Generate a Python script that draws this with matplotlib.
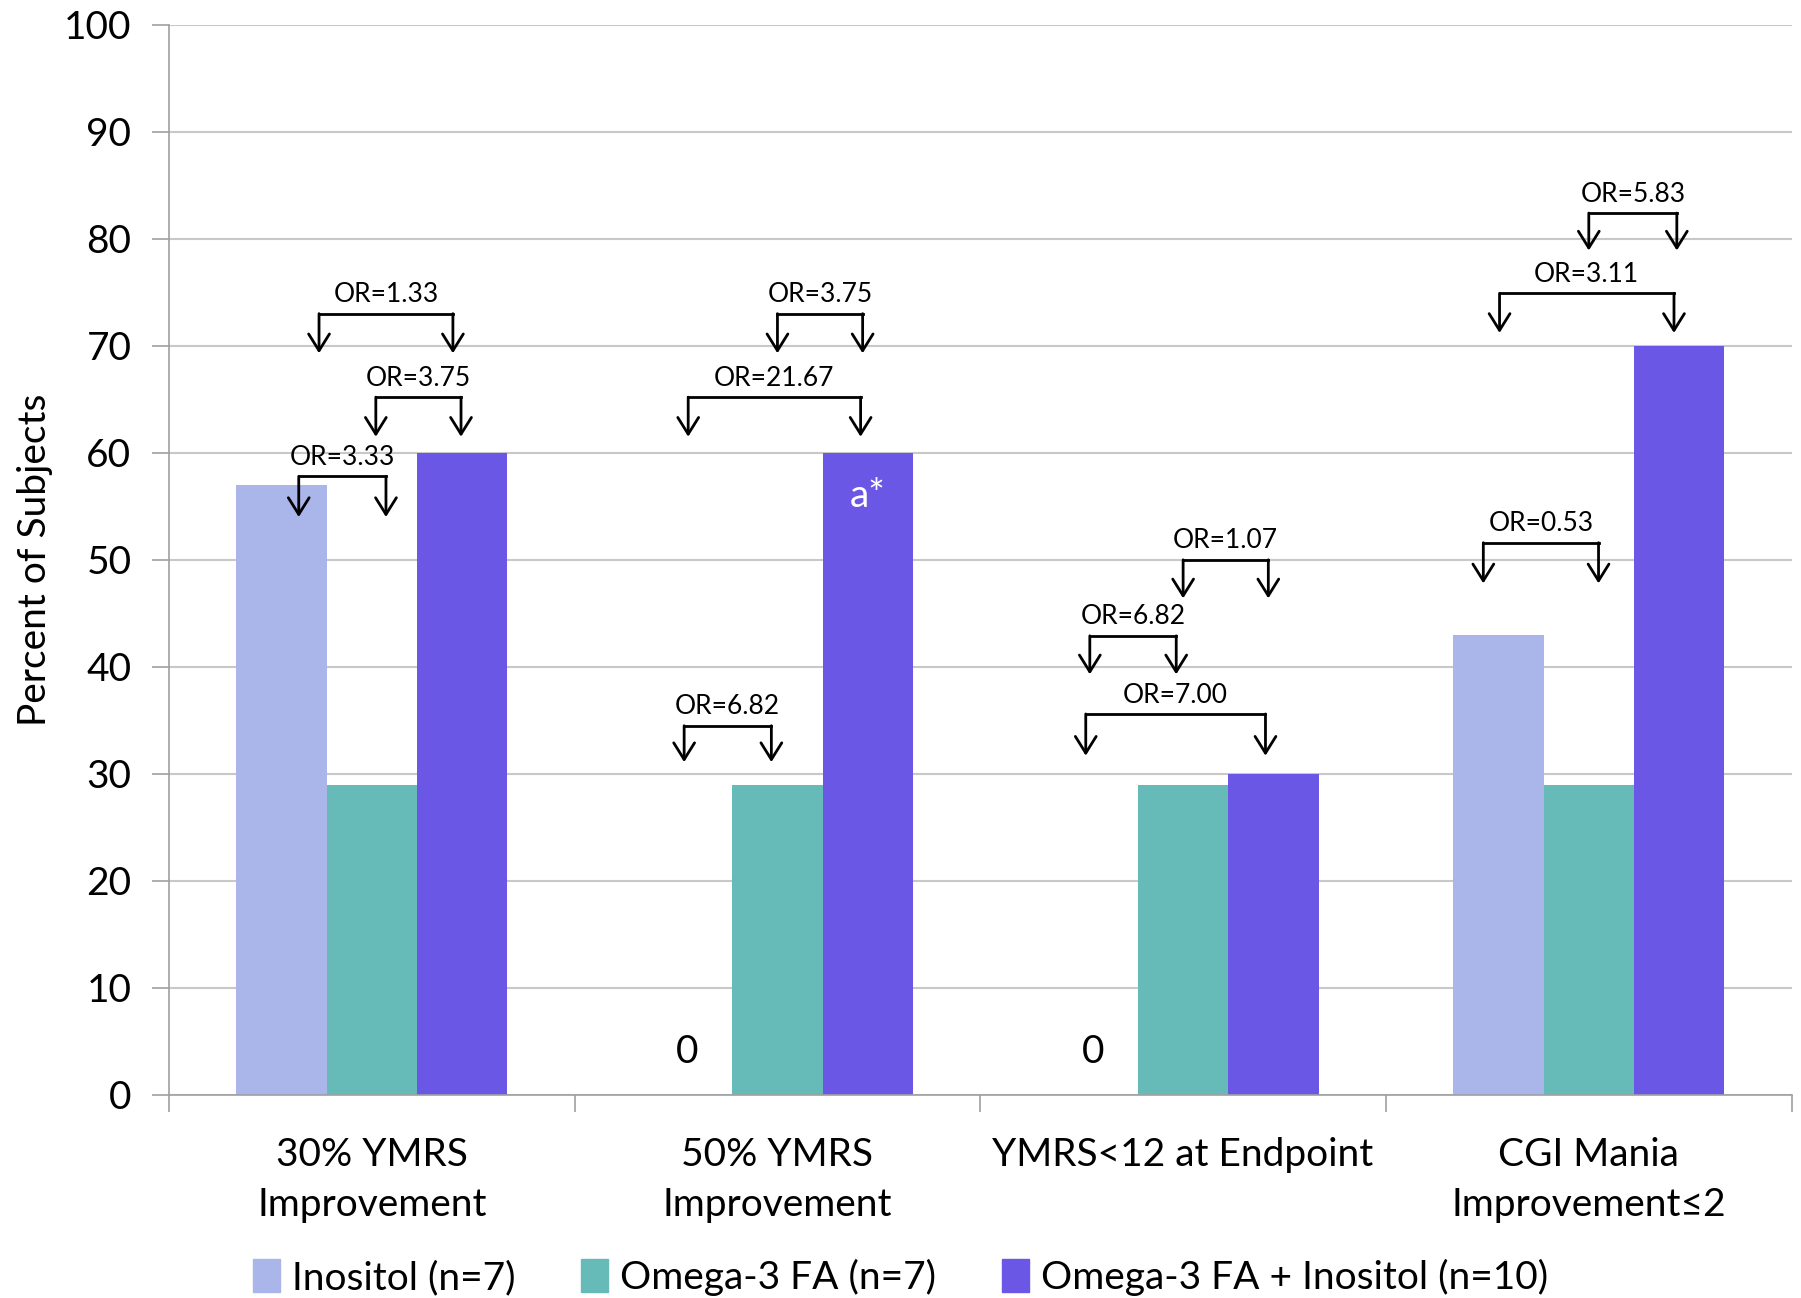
import matplotlib
matplotlib.use("Agg")
from matplotlib import pyplot as plt
from matplotlib.patches import Patch
import numpy as np

plt.rcParams['font.family'] = ['Lato', 'DejaVu Sans']

categories = ["30% YMRS\nImprovement", "50% YMRS\nImprovement",
              "YMRS<12 at Endpoint", "CGI Mania\nImprovement≤2"]
series_names = ["Inositol (n=7)", "Omega-3 FA (n=7)", "Omega-3 FA + Inositol (n=10)"]
inositol = [57, 0, 0, 43]
omega3 = [29, 29, 29, 29]
combo = [60, 60, 30, 70]
colors = ["#AAB5EA", "#66BBB8", "#6A57E5"]

# odds-ratio brackets: category, left end, right end (offset from category centre),
# height of the bar line, height of the arrow tips, label
brackets = [
    (0, -0.13, 0.20, 73.0, 69.3, "OR=1.33"),
    (0, 0.01, 0.22, 65.2, 61.5, "OR=3.75"),
    (0, -0.18, 0.035, 57.8, 54.0, "OR=3.33"),
    (1, 0.0, 0.21, 73.0, 69.3, "OR=3.75"),
    (1, -0.22, 0.205, 65.2, 61.5, "OR=21.67"),
    (1, -0.23, -0.015, 34.5, 31.1, "OR=6.82"),
    (2, 0.0, 0.21, 50.0, 46.4, "OR=1.07"),
    (2, -0.23, -0.017, 42.9, 39.3, "OR=6.82"),
    (2, -0.24, 0.203, 35.6, 31.7, "OR=7.00"),
    (3, 0.0, 0.217, 82.4, 78.9, "OR=5.83"),
    (3, -0.22, 0.21, 74.9, 71.2, "OR=3.11"),
    (3, -0.26, 0.024, 51.6, 47.8, "OR=0.53"),
]

fig = plt.figure(figsize=(18.01, 12.98), dpi=100)
ax = fig.add_axes([0.0938, 0.1564, 0.901, 0.8246])

x = np.arange(len(categories))
w = 0.2225
for i, vals in enumerate([inositol, omega3, combo]):
    ax.bar(x + (i - 1) * w, vals, w, color=colors[i], zorder=2)

# zero values written where the bar would be
for i, v in enumerate(inositol):
    if v == 0:
        ax.text(x[i] - w, 4, "0", ha="center", va="center", fontsize=28)
ax.text(x[1] + w, 56, "a*", ha="center", va="center", fontsize=28, color="white")

for cat, xl, xr, ytop, ytip, label in brackets:
    x1, x2 = x[cat] + xl, x[cat] + xr
    ax.plot([x1, x2], [ytop, ytop], color="black", lw=2.0, zorder=3,
            solid_capstyle="projecting")
    for xx in (x1, x2):
        ax.annotate("", xy=(xx, ytip), xytext=(xx, ytop),
                    arrowprops=dict(arrowstyle="->,head_length=1.2,head_width=0.75",
                                    color="black", lw=2.0, shrinkA=0, shrinkB=0),
                    zorder=3)
    ax.text((x1 + x2) / 2, ytop + 0.6, label, ha="center", va="bottom", fontsize=19)

ax.set_xlim(-0.5, 3.5)
ax.set_ylim(0, 100)
ax.set_yticks(np.arange(0, 101, 10))
ax.tick_params(axis="y", labelsize=28, length=12, color="#A0A0A0", width=1.2, pad=15)
ax.set_xticks(np.arange(-0.5, 4, 1))
ax.set_xticklabels([])
ax.tick_params(axis="x", length=12, color="#A0A0A0", width=1.2)
ax.set_xticks(x, minor=True)
ax.set_xticklabels(categories, minor=True, fontsize=28, linespacing=1.5)
ax.tick_params(axis="x", which="minor", length=0, pad=30)
ax.grid(axis="y", color="#C8C8C8", lw=1.5, zorder=0)
ax.set_axisbelow(True)
for s in ("top", "right"):
    ax.spines[s].set_visible(False)
for s in ("left", "bottom"):
    ax.spines[s].set_color("#A0A0A0")
    ax.spines[s].set_linewidth(1.2)
ax.set_ylabel("Percent of Subjects", fontsize=28, labelpad=8)

handles = [Patch(color=c) for c in colors]
fig.legend(handles, series_names, loc="center", bbox_to_anchor=(0.5, 0.016),
           ncol=3, frameon=False, fontsize=28, handlelength=0.7, handleheight=0.9,
           handletextpad=0.3, columnspacing=1.7)

fig.savefig("out.png", dpi=100)
